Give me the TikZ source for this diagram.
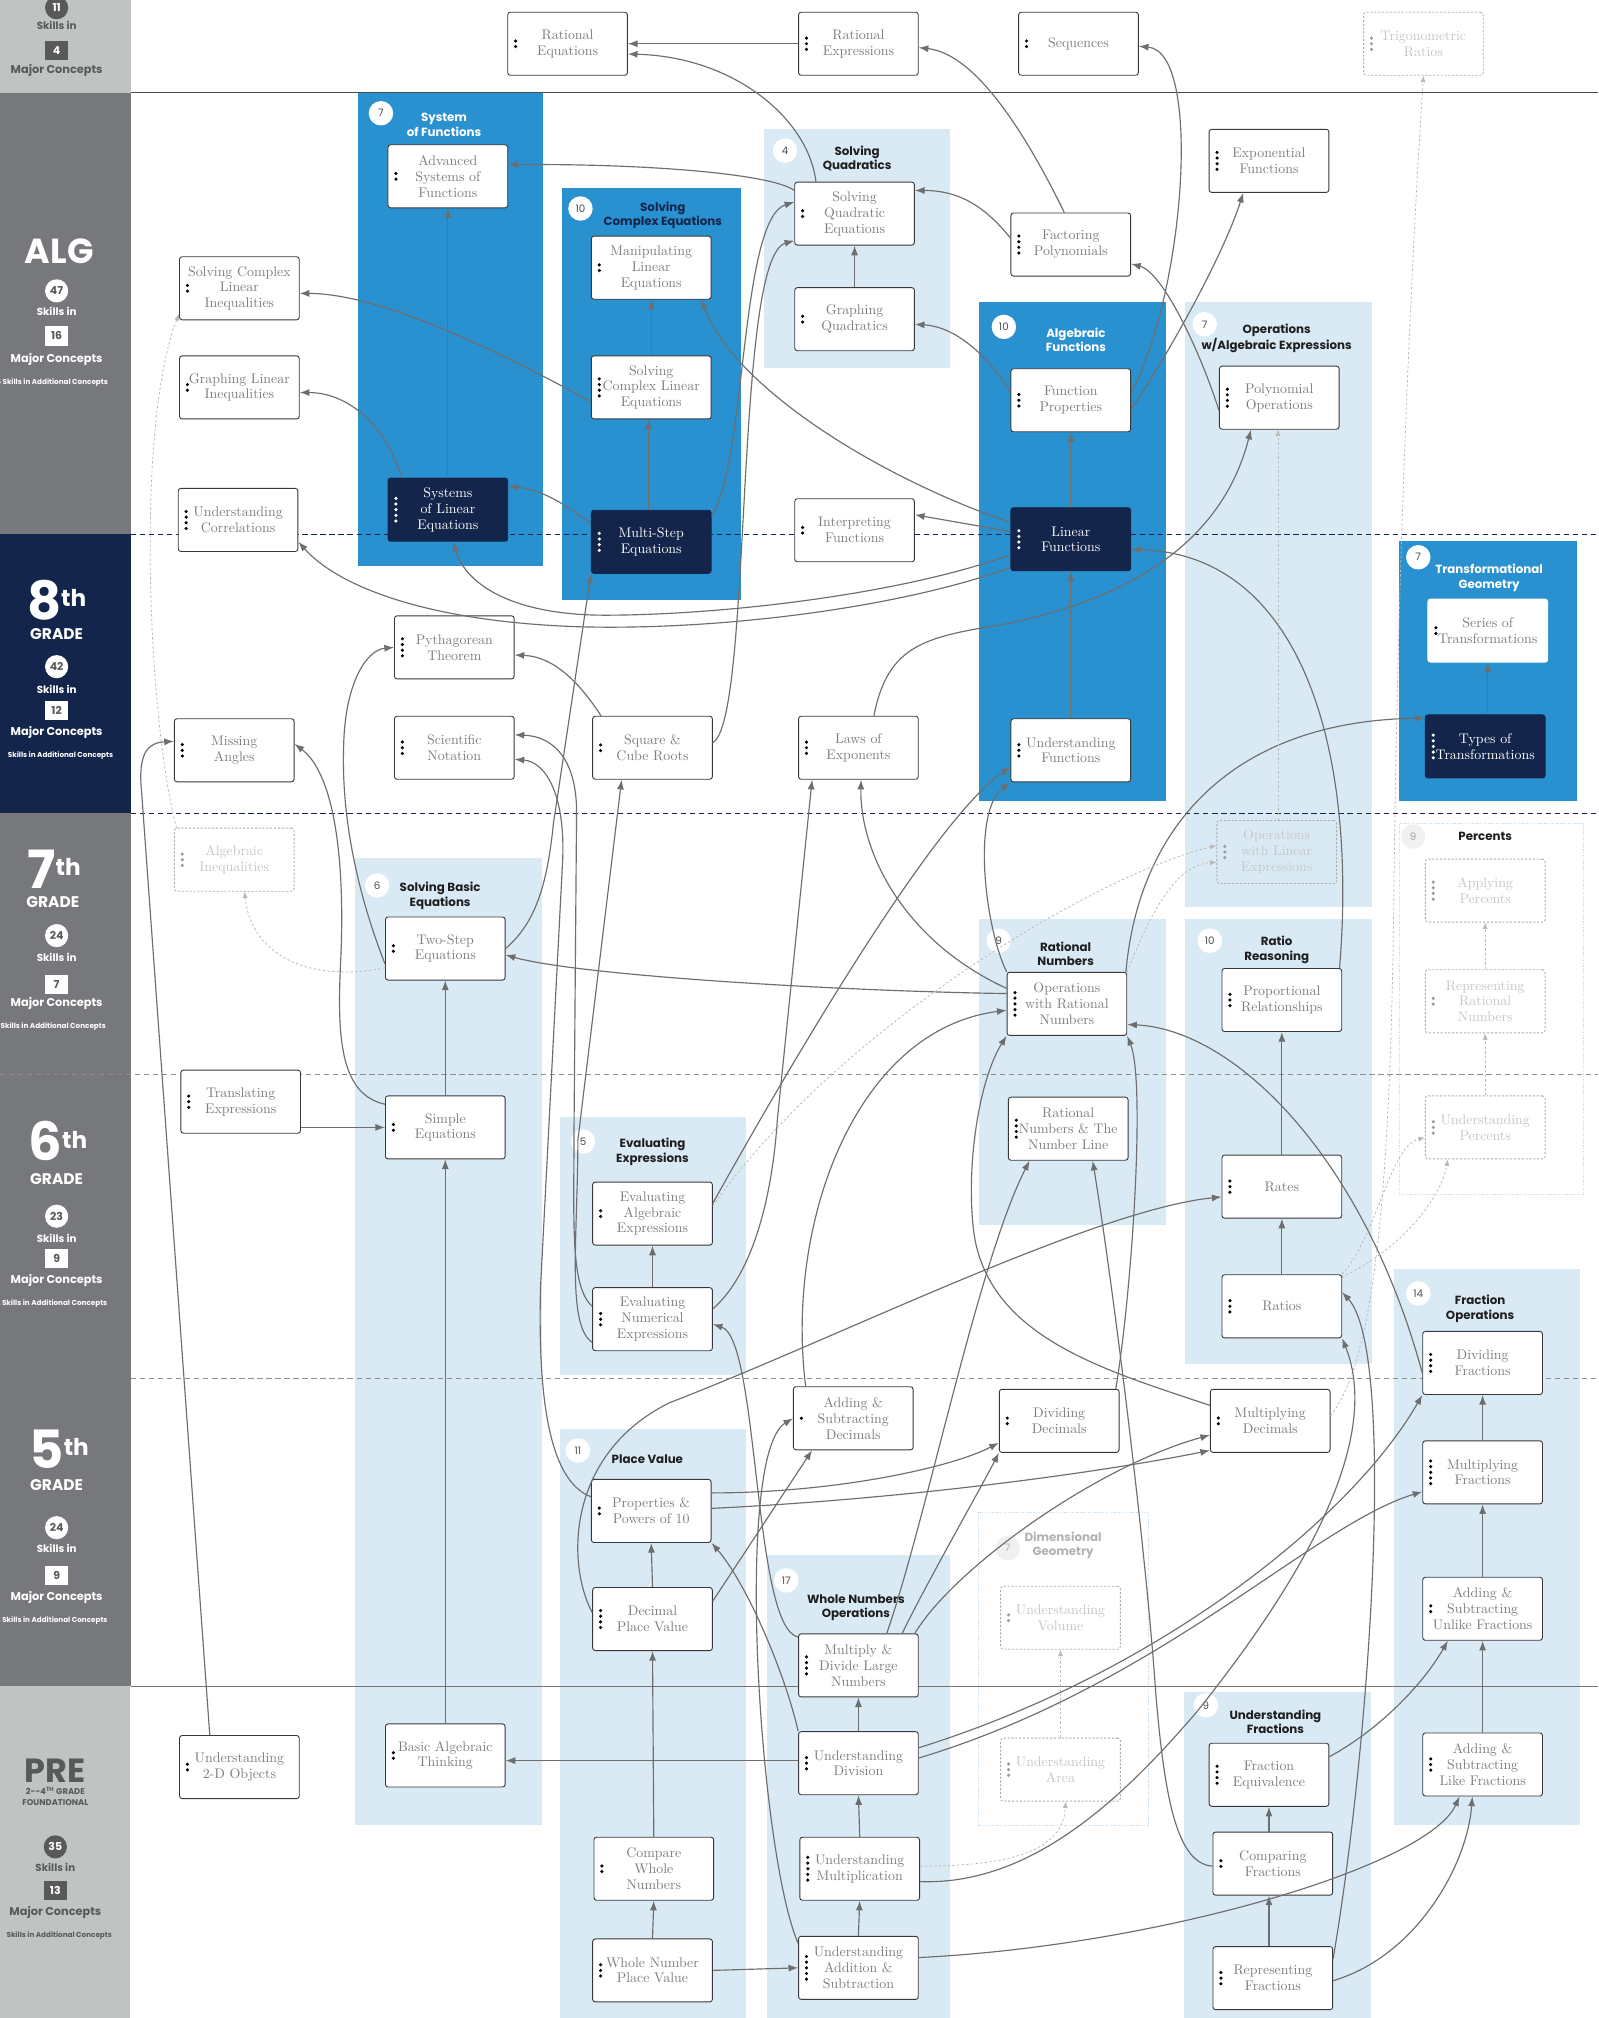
\documentclass[tikz,border=0pt]{standalone}
\usepackage{fontspec}
\newfontfamily\pop{Poppins}
\usetikzlibrary{arrows.meta,calc}
\pgfdeclarelayer{bg}
\pgfsetlayers{bg,main}
\definecolor{navy}{HTML}{13254A}
\definecolor{blu}{HTML}{2A91D0}
\definecolor{lblu}{HTML}{D9EAF5}
\definecolor{sgray}{HTML}{77787B}
\definecolor{lgray}{HTML}{C1C2C2}
\definecolor{dgray}{HTML}{58595B}
\definecolor{arrc}{HTML}{6E6E6E}
\definecolor{ntext}{HTML}{7D7D7D}
\definecolor{fadet}{HTML}{C6C6C6}
\definecolor{faded}{HTML}{ABABAB}
\definecolor{pctline}{HTML}{C9DEEE}
\tikzset{
 nd/.style={draw=black!78, line width=0.7pt, fill=white, rounded corners=2pt, minimum width=93pt, minimum height=49pt, text=ntext, align=center, font=\fontsize{10.8}{12.3}\selectfont, inner sep=1pt},
 nv/.style={nd, fill=navy, draw=navy, text=white},
 nw/.style={nd, draw=white},
 fd/.style={nd, draw=faded, dash pattern=on 1.6pt off 1.4pt, fill=none, text=fadet},
 ed/.style={draw=arrc, line width=0.9pt, -{Latex[length=7.5pt,width=5.5pt]}},
 fe/.style={draw=black!28, line width=0.6pt, dash pattern=on 1.8pt off 1.8pt, -{Latex[length=5pt,width=4pt]}},
 gt/.style={font=\pop\bfseries\fontsize{9.2}{11}\selectfont, align=center, text=black!88, inner sep=0pt},
 gc/.style={circle, fill=white, inner sep=0pt, minimum size=19pt, font=\pop\fontsize{8}{9}\selectfont, text=black!70},
 sc/.style={circle, inner sep=0pt, minimum size=18pt, font=\pop\bfseries\fontsize{8.5}{9}\selectfont},
 sq/.style={inner sep=0pt, minimum width=18pt, minimum height=15pt, font=\pop\bfseries\fontsize{8.5}{9}\selectfont},
 st/.style={inner sep=0pt, font=\pop\bfseries\fontsize{#1}{#1}\selectfont},
 big/.style={text=white, anchor=base, inner sep=0pt, text height=29pt, text depth=0pt, font=\pop\bfseries},
}
\newcommand\kdots[3]{\foreach \ii in {1,...,#2}{\fill[#3] ($(#1.west)+(6.5pt,{((#2+1)/2-\ii)*4.4pt})$) circle (1.35pt);}}
\newcommand\NN[6]{\node[#1] (#2) at (#3) {#4}; \kdots{#2}{#5}{#6}}
\newcommand\gradenum[1]{\fontsize{41}{41}\selectfont #1\raisebox{10pt}{\fontsize{18}{18}\selectfont th}}
\begin{document}
\begin{tikzpicture}[x=1pt,y=-1pt]
\useasboundingbox (0,0) rectangle (1242,1568);
\begin{pgfonlayer}{bg}
\fill[white] (0,0) rectangle (1242,1568);
\fill[lgray] (0,0) rectangle (102,72);
\fill[sgray] (0,72) rectangle (102,415);
\fill[navy] (0,415) rectangle (102,632);
\fill[sgray] (0,632) rectangle (102,1310);
\fill[lgray] (0,1310) rectangle (101,1568);
% groups
\fill[blu] (278,72) rectangle (422,440);
\fill[blu] (437,146) rectangle (576,466);
\fill[lblu] (594,100) rectangle (738,286);
\fill[blu] (761,235) rectangle (906,622);
\fill[lblu] (921,235) rectangle (1066,705);
\fill[blu] (1087,420) rectangle (1225,622);
\draw[pctline, line width=0.6pt, dash pattern=on 1pt off 1pt] (1087,640) rectangle (1230,928);
\fill[lblu] (276,667) rectangle (421,1418);
\fill[lblu] (761,714) rectangle (906,952);
\fill[lblu] (921,714) rectangle (1066,1060);
\fill[lblu] (435,868) rectangle (580,1068);
\fill[lblu] (435,1110) rectangle (580,1568);
\fill[lblu] (596,1208) rectangle (738,1568);
\draw[pctline, line width=0.6pt, dash pattern=on 1pt off 1pt] (760,1175) rectangle (892,1418);
\fill[lblu] (1083,986) rectangle (1228,1418);
\fill[lblu] (920,1315) rectangle (1065,1568);
% grade lines
\draw[black!70, line width=0.8pt] (102,72) -- (1242,72);
\draw[navy, line width=0.8pt, dash pattern=on 4pt off 3pt] (102,415) -- (1242,415);
\draw[navy, line width=0.8pt, dash pattern=on 4pt off 3pt] (102,632) -- (1242,632);
\draw[black!45, line width=0.7pt, dash pattern=on 4pt off 3pt] (0,835) -- (1242,835);
\draw[black!45, line width=0.7pt, dash pattern=on 4pt off 3pt] (102,1071) -- (1242,1071);
\draw[black!55, line width=0.7pt] (102,1310) -- (1242,1310);
\end{pgfonlayer}

% ---------- sidebar ----------
\begin{scope}
\clip (0,0) rectangle (102,1568);
\node[sc,fill=dgray,text=white] (s1) at (44,6) {11};
\node[st=8,text=dgray] (s2) at (44,20) {Skills in};
\node[sq,fill=dgray,text=white] (s3) at (44,39) {4};
\node[st=8.8,text=dgray] (s4) at (44,55) {Major Concepts};
\node[st=27,text=white,anchor=base,text depth=0pt] (s5) at (46,205) {ALG};
\node[sc,fill=white,text=dgray] (s6) at (44,226) {47};
\node[st=8,text=white] (s7) at (44,242) {Skills in};
\node[sq,fill=white,text=dgray] (s8) at (44,261) {16};
\node[st=8.8,text=white] (s9) at (44,279) {Major Concepts};
\node[st=5.6,text=white,anchor=west] (s10) at (-3,297) {5 Skills in Additional Concepts};
\node[big] (s11) at (44,481) {\gradenum{8}};
\node[st=12,text=white,anchor=base,text height=8.5pt,text depth=0pt] (s12) at (44,497) {GRADE};
\node[sc,fill=white,text=dgray] (s13) at (44,518) {42};
\node[st=8,text=white] (s14) at (44,536) {Skills in};
\node[sq,fill=white,text=dgray] (s15) at (44,552) {12};
\node[st=8.8,text=white] (s16) at (44,569) {Major Concepts};
\node[st=5.6,text=white] (s17) at (47,587) {Skills in Additional Concepts};
\node[big] (s18) at (42,690) {\gradenum{7}};
\node[st=12,text=white,anchor=base,text height=8.5pt,text depth=0pt] (s19) at (41,705) {GRADE};
\node[sc,fill=white,text=dgray] (s20) at (44,727) {24};
\node[st=8,text=white] (s21) at (44,744) {Skills in};
\node[sq,fill=white,text=dgray] (s22) at (44,765) {7};
\node[st=8.8,text=white] (s23) at (44,780) {Major Concepts};
\node[st=5.6,text=white,anchor=west] (s24) at (-3,798) {1 Skills in Additional Concepts};
\node[big] (s25) at (45,902) {\gradenum{6}};
\node[st=12,text=white,anchor=base,text height=8.5pt,text depth=0pt] (s26) at (44,920) {GRADE};
\node[sc,fill=white,text=dgray] (s27) at (44,945) {23};
\node[st=8,text=white] (s28) at (44,962) {Skills in};
\node[sq,fill=white,text=dgray] (s29) at (44,978) {9};
\node[st=8.8,text=white] (s30) at (44,995) {Major Concepts};
\node[st=5.6,text=white,anchor=west] (s31) at (-3,1013) {2 Skills in Additional Concepts};
\node[big] (s32) at (46,1141) {\gradenum{5}};
\node[st=12,text=white,anchor=base,text height=8.5pt,text depth=0pt] (s33) at (44,1158) {GRADE};
\node[sc,fill=white,text=dgray] (s34) at (44,1187) {24};
\node[st=8,text=white] (s35) at (44,1203) {Skills in};
\node[sq,fill=white,text=dgray] (s36) at (44,1224) {9};
\node[st=8.8,text=white] (s37) at (44,1241) {Major Concepts};
\node[st=5.6,text=white,anchor=west] (s38) at (-3,1259) {3 Skills in Additional Concepts};
\node[st=26,text=dgray,anchor=base,text depth=0pt] (s39) at (43,1385) {PRE};
\node[st=6.5,text=dgray,align=center,font=\pop\bfseries\fontsize{6.5}{8.5}\selectfont] (s40) at (43,1396) {2--4\textsuperscript{TH} GRADE\\FOUNDATIONAL};
\node[sc,fill=dgray,text=white] (s42) at (43,1435) {35};
\node[st=8,text=dgray] (s43) at (43,1451) {Skills in};
\node[sq,fill=dgray,text=white] (s44) at (43,1469) {13};
\node[st=8.8,text=dgray] (s45) at (43,1486) {Major Concepts};
\node[st=5.6,text=dgray] (s46) at (46,1504) {Skills in Additional Concepts};
\end{scope}

% ---------- group titles ----------
\node[gc] (c1) at (296,88) {7};
\node[gt,text=white] (t1) at (345,97) {System\\of Functions};
\node[gc] (c2) at (451,162) {10};
\node[gt,text=navy] (t2) at (515,167) {Solving\\Complex Equations};
\node[gc] (c3) at (610,117) {4};
\node[gt] (t3) at (666,123) {Solving\\Quadratics};
\node[gc] (c4) at (780,254) {10};
\node[gt,text=white] (t4) at (836,264) {Algebraic\\Functions};
\node[gc] (c5) at (936,252) {7};
\node[gt] (t5) at (992,263) {Operations\\w/Algebraic Expressions};
\node[gc] (c6) at (1102,433) {7};
\node[gt,text=white] (t6) at (1157,449) {Transformational\\Geometry};
\node[gc,fill=black!6,text=black!35] (c7) at (1098,650) {9};
\node[gt] (t7) at (1154,650) {Percents};
\node[gc] (c8) at (293,688) {6};
\node[gt] (t8) at (342,696) {Solving Basic\\Equations};
\node[gc] (c9) at (776,731) {9};
\node[gt] (t9) at (828,741) {Rational\\Numbers};
\node[gc] (c10) at (940,731) {10};
\node[gt] (t10) at (992,738) {Ratio\\Reasoning};
\node[gc] (c11) at (453,887) {5};
\node[gt] (t11) at (507,895) {Evaluating\\Expressions};
\node[gc] (c12) at (449,1127) {11};
\node[gt] (t12) at (503,1134) {Place Value};
\node[gc] (c13) at (611,1228) {17};
\node[gt] (t13) at (665,1249) {Whole Numbers\\Operations};
\node[gc,fill=black!6,text=black!30] (c14) at (783,1203) {7};
\node[gt,text=black!30] (t14) at (826,1201) {Dimensional\\Geometry};
\node[gc] (c15) at (1102,1005) {14};
\node[gt] (t15) at (1150,1017) {Fraction\\Operations};
\node[gc] (c16) at (937,1325) {9};
\node[gt] (t16) at (991,1338) {Understanding\\Fractions};

% ---------- nodes ----------
\NN{nd}{RatEq}{441,34}{Rational\\Equations}{2}{black}
\NN{nd}{RatExpr}{667,34}{Rational\\Expressions}{3}{black}
\NN{nd}{Seq}{838,34}{Sequences}{2}{black}
\NN{fd}{Trig}{1106,34}{Trigonometric\\Ratios}{3}{black!40}
\NN{nd}{AdvSys}{348,137}{Advanced\\Systems of\\Functions}{2}{black}
\NN{nd}{SolvCompIneq}{186,224}{Solving Complex\\Linear\\Inequalities}{2}{black}
\NN{nd}{GraphLinIneq}{186,301}{Graphing Linear\\Inequalities}{2}{black}
\NN{nd}{UnderCorr}{185,404}{Understanding\\Correlations}{4}{black}
\NN{nv}{SysLinEq}{348,396}{Systems\\of Linear\\Equations}{5}{white}
\NN{nd}{ManipLin}{506,208}{Manipulating\\Linear\\Equations}{2}{black}
\NN{nd}{SolvCompLin}{506,301}{Solving\\Complex Linear\\Equations}{4}{black}
\NN{nv}{MultiStep}{506,421}{Multi-Step\\Equations}{4}{white}
\NN{nd}{SolvQuad}{664,166}{Solving\\Quadratic\\Equations}{2}{black}
\NN{nd}{GraphQuad}{664,248}{Graphing\\Quadratics}{2}{black}
\NN{nd}{InterpFunc}{664,412}{Interpreting\\Functions}{2}{black}
\NN{nd}{FactPoly}{832,190}{Factoring\\Polynomials}{4}{black}
\NN{nd}{FuncProp}{832,311}{Function\\Properties}{3}{black}
\NN{nv}{LinFunc}{832,419}{Linear\\Functions}{4}{white}
\NN{nd}{ExpFunc}{986,125}{Exponential\\Functions}{4}{black}
\NN{nd}{PolyOps}{994,309}{Polynomial\\Operations}{4}{black}
\NN{nw}{SerTrans}{1156,490}{Series of\\Transformations}{2}{black}
\NN{nv}{TypesTrans}{1154,580}{Types of\\Transformations}{5}{white}
\NN{nd}{PythTh}{353,503}{Pythagorean\\Theorem}{4}{black}
\NN{nd}{MissAng}{182,583}{Missing\\Angles}{3}{black}
\NN{nd}{SciNot}{353,581}{Scientific\\Notation}{3}{black}
\NN{nd}{SqRoots}{507,581}{Square \&\\Cube Roots}{2}{black}
\NN{nd}{LawsExp}{667,581}{Laws of\\Exponents}{3}{black}
\NN{nd}{UndFunc}{832,583}{Understanding\\Functions}{3}{black}
\NN{fd}{AlgIneq}{182,668}{Algebraic\\Inequalities}{3}{black!40}
\NN{fd}{OpsLinExpr}{992,662}{Operations\\with Linear\\Expressions}{3}{black!40}
\NN{fd}{ApplyPct}{1154,692}{Applying\\Percents}{4}{black!40}
\NN{nd}{TwoStep}{346,737}{Two-Step\\Equations}{2}{black}
\NN{nd}{OpsRat}{829,780}{Operations\\with Rational\\Numbers}{5}{black}
\NN{nd}{PropRel}{996,777}{Proportional\\Relationships}{3}{black}
\NN{fd}{ReprRat}{1154,778}{Representing\\Rational\\Numbers}{2}{black!40}
\NN{nd}{TransExpr}{187,856}{Translating\\Expressions}{3}{black}
\NN{nd}{SimpEq}{346,876}{Simple\\Equations}{2}{black}
\NN{nd}{RatNumLine}{830,877}{Rational\\Numbers \& The\\Number Line}{4}{black}
\NN{fd}{UndPct}{1154,876}{Understanding\\Percents}{3}{black!40}
\NN{nd}{Rates}{996,922}{Rates}{3}{black}
\NN{nd}{EvalAlg}{507,943}{Evaluating\\Algebraic\\Expressions}{2}{black}
\NN{nd}{Ratios}{996,1015}{Ratios}{3}{black}
\NN{nd}{EvalNum}{507,1025}{Evaluating\\Numerical\\Expressions}{3}{black}
\NN{nd}{DivFrac}{1152,1059}{Dividing\\Fractions}{4}{black}
\NN{nd}{AddSubDec}{663,1102}{Adding \&\\Subtracting\\Decimals}{1}{black}
\NN{nd}{DivDec}{823,1104}{Dividing\\Decimals}{2}{black}
\NN{nd}{MultDec}{987,1104}{Multiplying\\Decimals}{2}{black}
\NN{nd}{MultFrac}{1152,1144}{Multiplying\\Fractions}{5}{black}
\NN{nd}{PropPow}{506,1174}{Properties \&\\Powers of 10}{2}{black}
\NN{fd}{UndVol}{824,1257}{Understanding\\Volume}{2}{black!40}
\NN{nd}{DecPV}{507,1258}{Decimal\\Place Value}{4}{black}
\NN{nd}{AddSubUnlike}{1152,1250}{Adding \&\\Subtracting\\Unlike Fractions}{2}{black}
\NN{nd}{MultDivLarge}{667,1294}{Multiply \&\\Divide Large\\Numbers}{4}{black}
\NN{nd}{Und2D}{186,1373}{Understanding\\2-D Objects}{2}{black}
\NN{nd}{BasicAlg}{346,1364}{Basic Algebraic\\Thinking}{2}{black}
\NN{nd}{UndDiv}{667,1370}{Understanding\\Division}{3}{black}
\NN{fd}{UndArea}{824,1375}{Understanding\\Area}{3}{black!40}
\NN{nd}{FracEquiv}{986,1379}{Fraction\\Equivalence}{4}{black}
\NN{nd}{AddSubLike}{1152,1371}{Adding \&\\Subtracting\\Like Fractions}{3}{black}
\NN{nd}{CompWhole}{508,1452}{Compare\\Whole\\Numbers}{2}{black}
\NN{nd}{UndMult}{668,1452}{Understanding\\Multiplication}{5}{black}
\NN{nd}{CompFrac}{989,1448}{Comparing\\Fractions}{2}{black}
\NN{nd}{WholePV}{507,1531}{Whole Number\\Place Value}{3}{black}
\NN{nd}{UndAddSub}{667,1529}{Understanding\\Addition \&\\Subtraction}{5}{black}
\NN{nd}{ReprFrac}{989,1537}{Representing\\Fractions}{3}{black}

% ---------- connectors ----------
\draw[ed] (RatExpr.west) -- (RatEq.east);
\draw[ed] ([xshift=-30pt]SolvQuad.north) .. controls (628,92) and (570,44) .. ([yshift=-8pt]RatEq.east);
\draw[ed] ([xshift=-5pt]FactPoly.north) .. controls (800,110) and (760,42) .. ([yshift=-3pt]RatExpr.east);
\draw[ed] ([yshift=6pt]FuncProp.east) .. controls (920,230) and (935,40) .. ([yshift=-2pt]Seq.east);
\draw[ed] ([yshift=-7pt]FuncProp.east) .. controls (905,280) and (950,200) .. ([xshift=-20pt]ExpFunc.south);
\draw[ed] ([yshift=-10pt]PolyOps.west) .. controls (935,280) and (905,212) .. ([yshift=-15pt]FactPoly.east);
\draw[ed] ([yshift=5pt]FactPoly.west) .. controls (765,160) and (745,148) .. ([yshift=18pt]SolvQuad.east);
\draw[ed] (GraphQuad.north) -- (SolvQuad.south);
\draw[ed] ([yshift=6pt]FuncProp.west) .. controls (770,280) and (745,254) .. ([yshift=-4pt]GraphQuad.east);
\draw[ed] (LinFunc.north) -- (FuncProp.south);
\draw[ed] ([yshift=6pt]LinFunc.west) -- ([yshift=12pt]InterpFunc.east);
\draw[ed] ([yshift=13pt]LinFunc.west) .. controls (680,370) and (570,300) .. ([xshift=39pt]ManipLin.south);
\draw[ed] ([xshift=12pt]LawsExp.north) .. controls (690,500) and (720,495) .. (780,485) .. controls (880,465) and (950,420) .. ([xshift=-22pt]PolyOps.south);
\draw[ed] ([yshift=18pt]SolvQuad.west) .. controls (600,135) and (500,127) .. ([yshift=9pt]AdvSys.east);
\draw[ed] (SysLinEq.north) -- (AdvSys.south);
\draw[ed] ([xshift=-36pt]SysLinEq.north) .. controls (300,330) and (270,305) .. ([yshift=-4pt]GraphLinIneq.east);
\draw[ed] ([yshift=-11pt]SolvCompLin.west) .. controls (400,280) and (300,228) .. ([yshift=-4pt]SolvCompIneq.east);
\draw[ed] ([xshift=-2pt]MultiStep.north) -- ([xshift=-2pt]SolvCompLin.south);
\draw[ed] (SolvCompLin.north) -- (ManipLin.south);
\draw[ed] ([yshift=14pt]MultiStep.west) .. controls (440,392) and (420,380) .. ([yshift=18pt]SysLinEq.east);
\draw[ed] ([yshift=20pt]MultiStep.east) .. controls (580,360) and (575,170) .. ([yshift=9pt]SolvQuad.west);
\draw[ed] ([yshift=4pt]SqRoots.east) .. controls (585,560) and (570,200) .. ([yshift=-21pt]SolvQuad.west);
\draw[ed] ([yshift=-12pt]LinFunc.west) .. controls (700,462) and (560,478) .. (470,478) .. controls (400,478) and (362,455) .. ([xshift=4pt]SysLinEq.south);
\draw[ed] ([yshift=-22pt]LinFunc.west) .. controls (700,472) and (560,490) .. (450,487) .. controls (330,483) and (262,455) .. ([yshift=-17pt]UnderCorr.east);
\draw[ed] (TwoStep.east) .. controls (415,718) and (425,690) .. (430,640) -- (MultiStep.south west);
\draw[ed] (UndFunc.north) -- (LinFunc.south);
\draw[ed] ([xshift=2pt]TypesTrans.north) -- (SerTrans.south);
\draw[ed] ([xshift=-1pt]OpsRat.north east) .. controls (885,640) and (960,560) .. ([yshift=22pt]TypesTrans.west);
\draw[ed] ([xshift=-2pt]PropRel.north east) .. controls (1055,580) and (1010,430) .. ([yshift=-8pt]LinFunc.east);
\draw[ed] ([yshift=-8pt]DivFrac.west) .. controls (1060,900) and (960,800) .. ([yshift=-16pt]OpsRat.east);
\draw[ed] (OpsRat.north west) .. controls (765,720) and (755,630) .. (UndFunc.south west);
\draw[ed] ([yshift=8pt]EvalAlg.east) .. controls (590,870) and (720,640) .. ([yshift=-13pt]UndFunc.west);
\draw[ed] ([yshift=8pt]EvalNum.east) .. controls (585,990) and (600,930) .. (604,870) -- ([xshift=-36pt]LawsExp.south);
\draw[ed] ([yshift=12pt]OpsRat.west) .. controls (700,730) and (668,660) .. ([xshift=2pt]LawsExp.south);
\draw[ed] ([yshift=8pt]OpsRat.west) .. controls (650,770) and (450,758) .. ([yshift=-5pt]TwoStep.east);
\draw[ed] ([xshift=-37pt]AddSubDec.north) .. controls (610,950) and (665,800) .. ([yshift=-5pt]OpsRat.west);
\draw[ed] ([yshift=12pt]MultDec.west) .. controls (860,1065) and (770,1040) .. (757,960) .. controls (750,910) and (760,840) .. (OpsRat.south west);
\draw[ed] ([xshift=44pt]DivDec.north) .. controls (880,1000) and (890,840) .. (OpsRat.south east);
\draw[ed] ([yshift=-2pt]CompFrac.west) .. controls (915,1448) and (905,1400) .. (898,1315) .. controls (890,1200) and (865,1000) .. ([xshift=19pt]RatNumLine.south);
\draw[ed] ([yshift=18pt]SimpEq.west) .. controls (262,850) and (262,800) .. (265,740) .. controls (268,660) and (258,600) .. ([yshift=5pt]MissAng.east);
\draw[ed] ([yshift=-12pt]TwoStep.west) .. controls (280,700) and (265,640) .. (267,580) .. controls (268,530) and (285,505) .. (PythTh.west);
\draw[fe] ([yshift=-15pt]TwoStep.west) .. controls (240,764) and (195,742) .. ([xshift=8pt]AlgIneq.south);
\draw[ed] (SimpEq.north) -- (TwoStep.south);
\draw[ed] (SimpEq.west -| TransExpr.east) -- (SimpEq.west);
\draw[ed] (BasicAlg.north) -- (SimpEq.south);
\draw[ed] ([yshift=2pt]UndDiv.west) -- ([yshift=-4pt]BasicAlg.east);
\draw[ed] ([xshift=-23pt]Und2D.north) -- (110,615) .. controls (107,585) and (115,577) .. ([yshift=7pt]MissAng.west);
\draw[fe] ([xshift=2pt]AlgIneq.north west) .. controls (115,560) and (105,330) .. ([yshift=-20pt]SolvCompIneq.west);
\draw[fe] ([xshift=1pt]OpsLinExpr.north) -- ([xshift=-1pt]PolyOps.south);
\draw[fe] (ReprRat.north) -- (ApplyPct.south);
\draw[fe] (UndPct.north) -- (ReprRat.south);
\draw[fe] (UndArea.north) -- (UndVol.south);
\draw[fe] ([yshift=2pt]UndMult.east) .. controls (780,1450) and (826,1440) .. ([xshift=4pt]UndArea.south);
\draw[fe] (Ratios.north east) .. controls (1070,960) and (1080,890) .. ([yshift=-8pt]UndPct.west);
\draw[fe] ([yshift=-2pt]Ratios.north east) .. controls (1090,970) and (1120,930) .. ([xshift=-29pt]UndPct.south);
\draw[fe] ([yshift=4pt]MultDec.east) .. controls (1065,1060) and (1080,950) .. (1083,700) .. controls (1086,400) and (1100,150) .. (Trig.south);
\draw[fe] ([yshift=6pt]EvalAlg.east) .. controls (650,800) and (850,680) .. ([yshift=5pt]OpsLinExpr.west);
\draw[fe] (OpsRat.north east) .. controls (890,720) and (910,672) .. ([yshift=-8pt]OpsLinExpr.west);
\draw[ed] (EvalNum.north) -- (EvalAlg.south);
\draw[ed] (Rates.north) -- (PropRel.south);
\draw[ed] (Ratios.north) -- (Rates.south);
\draw[ed] (MultFrac.north) -- (DivFrac.south);
\draw[ed] (AddSubUnlike.north) -- (MultFrac.south);
\draw[ed] (AddSubLike.north) -- (AddSubUnlike.south);
\draw[ed] ([xshift=-3pt]CompFrac.north) -- (FracEquiv.south);
\draw[ed] ([xshift=-3pt]ReprFrac.north) -- ([xshift=-3pt]CompFrac.south);
\draw[ed] ([yshift=14pt]FracEquiv.east) .. controls (1070,1345) and (1105,1310) .. ([xshift=-27pt]AddSubUnlike.south);
\draw[ed] ([yshift=8pt]UndAddSub.east) .. controls (900,1512) and (1110,1450) .. ([xshift=-18pt]AddSubLike.south);
\draw[ed] ([yshift=-2pt]ReprFrac.east) .. controls (1100,1520) and (1140,1450) .. ([xshift=-8pt]AddSubLike.south);
\draw[ed] ([yshift=15pt]ReprFrac.east) .. controls (1065,1350) and (1085,1050) .. ([yshift=11pt]Ratios.east);
\draw[ed] ([yshift=-10pt]UndMult.east) .. controls (800,1465) and (870,1400) .. (930,1330) .. controls (1010,1230) and (1075,1120) .. (Ratios.south east);
\draw[ed] ([yshift=12pt]UndDiv.east) .. controls (900,1300) and (1050,1180) .. (DivFrac.south west);
\draw[ed] ([yshift=4pt]UndDiv.east) .. controls (900,1310) and (1020,1185) .. ([yshift=-15pt]MultFrac.west);
\draw[ed] ([xshift=-40pt]SqRoots.north) .. controls (450,530) and (430,510) .. ([yshift=-6pt]PythTh.east);
\draw[ed] ([yshift=14pt]DecPV.east) -- ([xshift=-32pt]AddSubDec.south);
\draw[ed] (DecPV.north) -- (PropPow.south);
\draw[ed] (CompWhole.north) -- (DecPV.south);
\draw[ed] (WholePV.north) -- (CompWhole.south);
\draw[ed] (WholePV.east) -- (UndAddSub.west);
\draw[ed] (UndAddSub.north) -- (UndMult.south);
\draw[ed] (UndMult.north) -- (UndDiv.south);
\draw[ed] (UndDiv.north) -- (MultDivLarge.south);
\draw[ed] (UndDiv.north west) .. controls (610,1300) and (580,1230) .. (PropPow.south east);
\draw[ed] ([yshift=19pt]UndAddSub.west) .. controls (590,1440) and (570,1130) .. (AddSubDec.west);
\draw[ed] ([yshift=22pt]MultDivLarge.west) .. controls (585,1265) and (590,1040) .. ([yshift=-4pt]EvalNum.east);
\draw[ed] ([xshift=22pt]MultDivLarge.north) .. controls (720,1180) and (760,980) .. ([xshift=-30pt]RatNumLine.south);
\draw[ed] ([xshift=34pt]MultDivLarge.north) .. controls (720,1230) and (760,1160) .. (DivDec.south west);
\draw[ed] ([xshift=-3pt]MultDivLarge.north east) .. controls (740,1220) and (850,1140) .. ([yshift=-11pt]MultDec.west);
\draw[ed] ([yshift=14pt]PropPow.east) .. controls (650,1160) and (740,1140) .. ([yshift=-17pt]DivDec.west);
\draw[ed] ([yshift=2pt]PropPow.east) .. controls (700,1165) and (850,1145) .. ([yshift=-23pt]MultDec.west);
\draw[ed] ([yshift=5pt]DecPV.west) .. controls (440,1215) and (440,1130) .. (520,1090) .. controls (650,1040) and (850,940) .. ([yshift=-8pt]Rates.west);
\draw[ed] ([yshift=10pt]EvalNum.west) .. controls (443,1000) and (446,950) .. (446,880) -- (448,631) .. controls (448,590) and (430,572) .. ([yshift=10pt]SciNot.east);
\draw[ed] ([yshift=11pt]PropPow.west) .. controls (425,1150) and (418,1080) .. (420,1000) -- (437,672) .. controls (440,620) and (425,592) .. ([yshift=-9pt]SciNot.east);
\draw[ed] ([yshift=-18pt]EvalNum.west) .. controls (440,1030) and (449,960) .. (449,886) -- ([xshift=-24pt]SqRoots.south);
\end{tikzpicture}
\end{document}
